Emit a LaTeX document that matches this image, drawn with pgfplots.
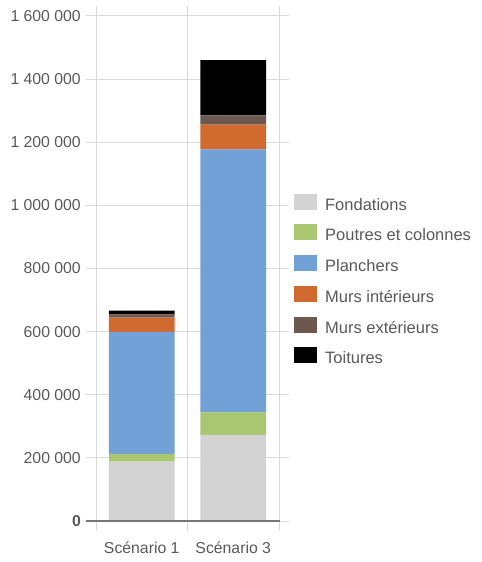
\documentclass[border=0pt]{standalone}
\usepackage{pgfplots}
\pgfplotsset{compat=1.18}
\usepackage{fontspec}
\setmainfont{Liberation Sans}
\definecolor{txt}{RGB}{89,89,89}
\definecolor{gridc}{RGB}{217,217,217}
\definecolor{zeroc}{RGB}{118,118,118}
\definecolor{cFond}{RGB}{211,211,211}
\definecolor{cPout}{RGB}{169,198,113}
\definecolor{cPlan}{RGB}{114,161,216}
\definecolor{cMint}{RGB}{209,106,46}
\definecolor{cMext}{RGB}{108,88,78}
\definecolor{cToit}{RGB}{0,0,0}
\begin{document}
\begin{tikzpicture}
\useasboundingbox (0,0) rectangle (482bp,562bp);
\begin{axis}[
  name=ax,
  at={(96bp,41bp)}, anchor=south west,
  scale only axis,
  width=183bp, height=505bp,
  ybar stacked, bar width=0.72,
  xmin=-0.5, xmax=1.5,
  ymin=0, ymax=1600000,
  scaled y ticks=false,
  xtick={0,1},
  xticklabels={Scénario 1,Scénario 3},
  xtick style={draw=none},
  extra x ticks={-0.5,0.5,1.5},
  extra x tick labels={},
  extra x tick style={grid=major, tick align=outside, major tick length=10bp,
     xtick style={draw=gridc, line width=1bp}},
  ytick={0,200000,...,1600000},
  yticklabels={\textbf{0},200\ 000,400\ 000,600\ 000,800\ 000,1\ 000\ 000,1\ 200\ 000,1\ 400\ 000,1\ 600\ 000},
  ymajorgrids,
  grid style={draw=gridc, line width=1bp},
  ytick style={draw=gridc, line width=1bp},
  tick align=outside, major tick length=10bp,
  axis line style={draw=none},
  tick label style={font=\fontsize{15.8bp}{18bp}\selectfont, text=txt},
  yticklabel style={anchor=east, inner sep=0pt, xshift=-5bp},
  xticklabel style={anchor=north, inner sep=0pt, yshift=-11bp},
  legend style={at={(1.079,0.4757)}, anchor=west, draw=none, fill=none,
     inner sep=0pt, row sep=10.2bp,
     font=\fontsize{16.5bp}{18bp}\selectfont, text=txt,
     nodes={inner sep=0pt, text height=11bp, text depth=4bp},
     /tikz/every odd column/.append style={column sep=8.5bp}},
  legend cell align=left,
  legend image code/.code={\fill[#1] (0bp,-3bp) rectangle (23bp,13bp);},
]
\addplot[fill=cFond, draw=none] coordinates {(0,188000) (1,273000)};
\addplot[fill=cPout, draw=none] coordinates {(0,24500) (1,70800)};
\addplot[fill=cPlan, draw=none] coordinates {(0,387000) (1,834000)};
\addplot[fill=cMint, draw=none] coordinates {(0,44500) (1,78400)};
\addplot[fill=cMext, draw=none] coordinates {(0,10500) (1,28600)};
\addplot[fill=cToit, draw=none] coordinates {(0,11700) (1,175600)};
\legend{Fondations,Poutres et colonnes,Planchers,Murs intérieurs,Murs extérieurs,Toitures}
\end{axis}
\draw[zeroc, line width=2bp] ([xshift=-10bp]ax.south west) -- ([xshift=1bp]ax.south east);
\end{tikzpicture}
\end{document}
